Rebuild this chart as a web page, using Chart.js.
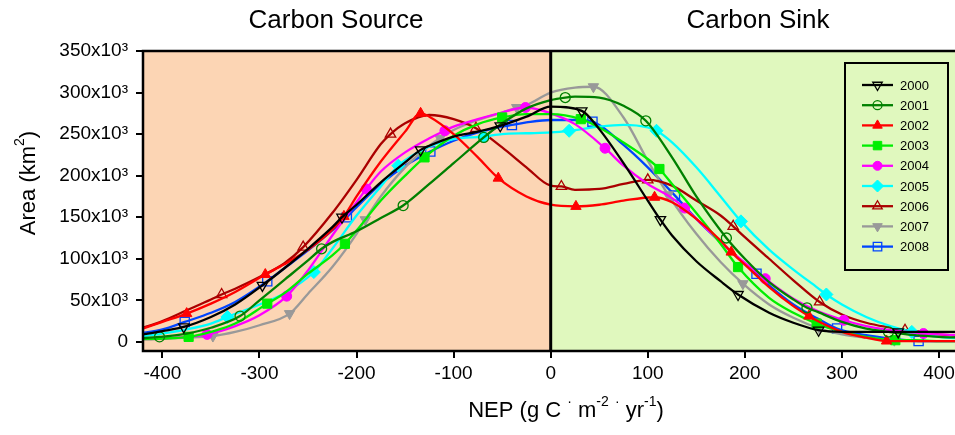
<!DOCTYPE html>
<html>
<head>
<meta charset="utf-8">
<script src="https://cdn.jsdelivr.net/npm/chart.js@4.4.1/dist/chart.umd.min.js"></script>
<style>
  html, body { margin: 0; padding: 0; background: #fff; }
  #wrap { width: 955px; height: 435px; }
</style>
</head>
<body>
<div id="wrap"><canvas id="nepChart" width="955" height="435"></canvas></div>
<script>
// NEP positions (g C m-2 yr-1) where the curve outlines are sampled
const nepGrid = [-425, -400, -375, -350, -325, -300, -275, -250, -225, -200, -175, -150, -125, -100, -75, -50, -25,
                 0, 25, 50, 75, 100, 125, 150, 175, 200, 225, 250, 275, 300, 325, 350, 375, 400, 425];

// curve outlines, area in 10^3 km2, one value per nepGrid entry
const curve2000 = [8, 13, 20, 30, 45, 65, 88, 112, 138, 165, 192, 216, 236, 247, 253, 261, 271, 283, 282, 256, 215, 170, 128, 97, 73, 52, 35, 23, 15, 12, 12, 12, 12, 12, 12];
const curve2001 = [4, 6, 10, 17, 27, 50, 74, 98, 120, 133, 149, 166, 190, 215, 240, 263, 281, 291, 295, 294, 284, 263, 222, 175, 133, 100, 72, 51, 36, 24, 16, 12, 8, 6, 5];
const curve2002 = [14, 24, 34, 46, 60, 77, 93, 111, 135, 175, 217, 253, 271, 250, 222, 194, 175, 165, 163, 165, 170, 174, 168, 148, 122, 93, 66, 43, 25, 12, 5, 2, 1, 1, 1];
const curve2003 = [3, 4, 6, 12, 22, 38, 58, 82, 104, 134, 170, 200, 226, 248, 262, 270, 274, 274, 270, 258, 240, 220, 190, 155, 118, 80, 53, 35, 22, 12, 6, 3, 2, 1, 1];
const curve2004 = [3, 4, 6, 10, 19, 32, 52, 86, 128, 168, 205, 228, 245, 259, 268, 276, 282, 275, 262, 238, 212, 190, 173, 148, 120, 95, 72, 52, 37, 27, 19, 14, 11, 9, 8];
const curve2005 = [6, 10, 15, 22, 32, 45, 58, 76, 112, 152, 187, 218, 235, 244, 248, 250, 251, 252, 255, 259, 261, 258, 240, 210, 175, 140, 111, 87, 65, 45, 30, 19, 11, 6, 4];
const curve2006 = [15, 25, 38, 51, 64, 78, 94, 120, 155, 195, 238, 263, 273, 268, 256, 234, 210, 188, 183, 184, 190, 195, 188, 170, 152, 126, 100, 74, 50, 33, 23, 17, 13, 9, 7];
const curve2007 = [3, 4, 5, 7, 12, 20, 31, 58, 90, 130, 175, 210, 236, 255, 267, 276, 285, 300, 306, 304, 270, 218, 170, 130, 96, 68, 45, 29, 17, 9, 5, 2, 1, 1, 1];
const curve2008 = [10, 15, 24, 35, 48, 66, 88, 110, 134, 162, 190, 212, 229, 242, 252, 259, 264, 267, 267, 260, 237, 210, 180, 148, 120, 94, 68, 45, 28, 14, 8, 4, 1, 1, 1];

// marker positions (NEP) and areas (10^3 km2)
const markX2000 = [-378, -297, -215, -134, -52, 32, 113, 193, 276, 358];
const markY2000 = [18, 68, 150, 231, 260, 278, 147, 57, 14, 12];
const markX2001 = [-403, -320, -236, -152, -69, 15, 98, 181, 264, 348];
const markY2001 = [6, 31, 112, 164, 246, 294, 266, 125, 41, 12];
const markX2002 = [-375, -294, -213, -134, -54, 26, 107, 186, 266, 346];
const markY2002 = [34, 81, 151, 275, 197, 163, 174, 108, 31, 1];
const markX2003 = [-373, -292, -212, -130, -50, 31, 112, 193, 274, 355];
const markY2003 = [6, 46, 118, 222, 270, 268, 208, 90, 22, 2];
const markX2004 = [-354, -272, -190, -109, -26, 56, 138, 221, 302, 384];
const markY2004 = [9, 55, 184, 254, 282, 233, 161, 76, 26, 10];
const markX2005 = [-333, -244, -157, -69, 19, 109, 196, 284, 372];
const markY2005 = [30, 84, 212, 247, 254, 254, 145, 57, 12];
const markX2006 = [-339, -255, -165, -77, 11, 100, 188, 277, 365];
const markY2006 = [57, 114, 250, 257, 187, 195, 139, 48, 14];
const markX2007 = [-348, -269, -191, -114, -35, 44, 121, 198, 277, 354];
const markY2007 = [7, 34, 147, 245, 282, 307, 177, 70, 16, 2];
const markX2008 = [-377, -292, -210, -124, -40, 43, 128, 212, 295, 379];
const markY2008 = [24, 73, 150, 229, 261, 265, 176, 82, 16, 1];

const years = ['2000', '2001', '2002', '2003', '2004', '2005', '2006', '2007', '2008'];
const xTickValues = [-400, -300, -200, -100, 0, 100, 200, 300, 400];
const yTickValues = [0, 50, 100, 150, 200, 250, 300, 350];

const curves = [curve2000, curve2001, curve2002, curve2003, curve2004, curve2005, curve2006, curve2007, curve2008];
const markXs = [markX2000, markX2001, markX2002, markX2003, markX2004, markX2005, markX2006, markX2007, markX2008];
const markYs = [markY2000, markY2001, markY2002, markY2003, markY2004, markY2005, markY2006, markY2007, markY2008];

// styling per year
const lineColors = ['#000000', '#008000', '#ff0000', '#00ee00', '#ff00ff', '#00ffff', '#aa0000', '#999999', '#0044ff'];
const markShapes = ['triangle', 'circle', 'triangle', 'rect', 'circle', 'rectRot', 'triangle', 'triangle', 'rect'];
const markTurns = [180, 0, 0, 0, 0, 0, 0, 180, 0];
const markFilled = [false, false, true, true, true, true, false, true, false];
const markSizes = [6, 5, 6, 6.5, 5, 6.5, 6, 6, 6.5];

const FONT = "'Liberation Sans', Arial, sans-serif";
const peach = 'rgb(252, 213, 180)';
const paleGreen = 'rgb(224, 248, 190)';

// merge curve samples and markers, skipping samples that sit right next to a marker
function buildPoints(curve, mx, my) {
    const pts = [];
    nepGrid.forEach((x, i) => {
        if (mx.every(m => Math.abs(m - x) > 8)) pts.push({ x: x, y: curve[i], m: false });
    });
    mx.forEach((x, i) => pts.push({ x: x, y: my[i], m: true }));
    pts.sort((a, b) => a.x - b.x);
    return pts;
}

const datasets = years.map((yr, i) => ({
    label: yr,
    data: buildPoints(curves[i], markXs[i], markYs[i]),
    borderColor: lineColors[i],
    borderWidth: 2.3,
    cubicInterpolationMode: 'monotone',
    pointStyle: markShapes[i],
    rotation: markTurns[i],
    pointRadius: (ctx) => (ctx.raw && ctx.raw.m ? markSizes[i] : 0),
    pointBackgroundColor: markFilled[i] ? lineColors[i] : 'rgba(0,0,0,0)',
    pointBorderColor: lineColors[i],
    pointBorderWidth: markFilled[i] ? 1 : 1.3
}));

// draws a run of text pieces; pieces flagged sup are smaller and raised
function drawRich(ctx, parts, cx, cy, size) {
    const supSize = Math.round(size * 0.62);
    let total = 0;
    parts.forEach(p => {
        ctx.font = (p.sup ? supSize : size) + 'px ' + FONT;
        total += ctx.measureText(p.t).width;
    });
    let x = cx - total / 2;
    ctx.textAlign = 'left';
    ctx.textBaseline = 'middle';
    parts.forEach(p => {
        ctx.font = (p.sup ? supSize : size) + 'px ' + FONT;
        ctx.fillText(p.t, x, p.sup ? cy - size * 0.38 : cy);
        x += ctx.measureText(p.t).width;
    });
}

const decorPlugin = {
    id: 'decor',
    beforeDatasetsDraw(chart) {
        const { ctx, chartArea: a, scales: { x } } = chart;
        const x0 = x.getPixelForValue(0);
        ctx.save();
        ctx.fillStyle = peach;
        ctx.fillRect(a.left, a.top, x0 - a.left, a.bottom - a.top);
        ctx.fillStyle = paleGreen;
        ctx.fillRect(x0, a.top, a.right - x0, a.bottom - a.top);
        ctx.restore();
    },
    afterDatasetsDraw(chart) {
        const { ctx, chartArea: a, scales: { x } } = chart;
        const x0 = x.getPixelForValue(0);
        ctx.save();
        // divider between source and sink
        ctx.strokeStyle = '#000';
        ctx.lineWidth = 3;
        ctx.beginPath();
        ctx.moveTo(x0, a.top);
        ctx.lineTo(x0, a.bottom);
        ctx.stroke();
        // frame
        ctx.lineWidth = 2.5;
        ctx.strokeRect(a.left, a.top, a.right - a.left + 4, a.bottom - a.top);

        // legend box
        ctx.lineWidth = 2;
        ctx.strokeRect(845, 63, 103, 207);
        years.forEach((yr, i) => {
            const y = 85 + i * 20.2;
            ctx.strokeStyle = lineColors[i];
            ctx.lineWidth = 2.3;
            ctx.beginPath();
            ctx.moveTo(862, y);
            ctx.lineTo(893, y);
            ctx.stroke();
            ctx.fillStyle = markFilled[i] ? lineColors[i] : 'rgba(0,0,0,0)';
            ctx.lineWidth = markFilled[i] ? 1 : 1.3;
            Chart.helpers.drawPoint(ctx, {
                pointStyle: markShapes[i],
                rotation: markTurns[i],
                radius: markSizes[i] - 0.5,
                borderWidth: 1
            }, 877.5, y);
            ctx.fillStyle = '#000';
            ctx.font = '13px ' + FONT;
            ctx.textAlign = 'left';
            ctx.textBaseline = 'middle';
            ctx.fillText(yr, 900, y + 1);
        });

        // titles over each half
        ctx.fillStyle = '#000';
        ctx.font = '26px ' + FONT;
        ctx.textAlign = 'center';
        ctx.textBaseline = 'middle';
        ctx.fillText('Carbon Source', 336, 21);
        ctx.fillText('Carbon Sink', 758, 21);

        // axis titles
        drawRich(ctx, [
            { t: 'NEP (g C ' }, { t: '·', sup: true }, { t: ' m' }, { t: '-2', sup: true },
            { t: ' ' }, { t: '·', sup: true }, { t: ' yr' }, { t: '-1', sup: true }, { t: ')' }
        ], 566, 411, 22);
        ctx.save();
        ctx.translate(29, 183);
        ctx.rotate(-Math.PI / 2);
        drawRich(ctx, [{ t: 'Area (km' }, { t: '2', sup: true }, { t: ')' }], 0, 0, 22);
        ctx.restore();
        ctx.restore();
    }
};

new Chart(document.getElementById('nepChart'), {
    type: 'line',
    data: { datasets: datasets },
    options: {
        responsive: false,
        animation: false,
        layout: { padding: { top: 51, left: 0, right: 0, bottom: 0 } },
        plugins: { legend: { display: false }, tooltip: { enabled: false } },
        scales: {
            x: {
                type: 'linear',
                min: -420,
                max: 416.5,
                afterBuildTicks: (s) => { s.ticks = xTickValues.map(v => ({ value: v })); },
                afterFit: (s) => { s.height = 84; s.paddingLeft = 0; s.paddingRight = 0; },
                ticks: { color: '#000', font: { family: FONT, size: 19 }, padding: 4, maxRotation: 0, autoSkip: false },
                grid: { drawOnChartArea: false, drawTicks: true, tickLength: 7, color: '#000', lineWidth: 2 },
                border: { display: false }
            },
            y: {
                min: -11,
                max: 350,
                afterBuildTicks: (s) => { s.ticks = yTickValues.map(v => ({ value: v })); },
                afterFit: (s) => { s.width = 143; s.paddingTop = 0; s.paddingBottom = 0; },
                ticks: {
                    color: '#000',
                    font: { family: FONT, size: 19 },
                    padding: 8,
                    callback: (v) => (v === 0 ? '0' : v + 'x10³')
                },
                grid: { drawOnChartArea: false, drawTicks: true, tickLength: 7, color: '#000', lineWidth: 2 },
                border: { display: false }
            }
        }
    },
    plugins: [decorPlugin]
});
</script>
</body>
</html>
